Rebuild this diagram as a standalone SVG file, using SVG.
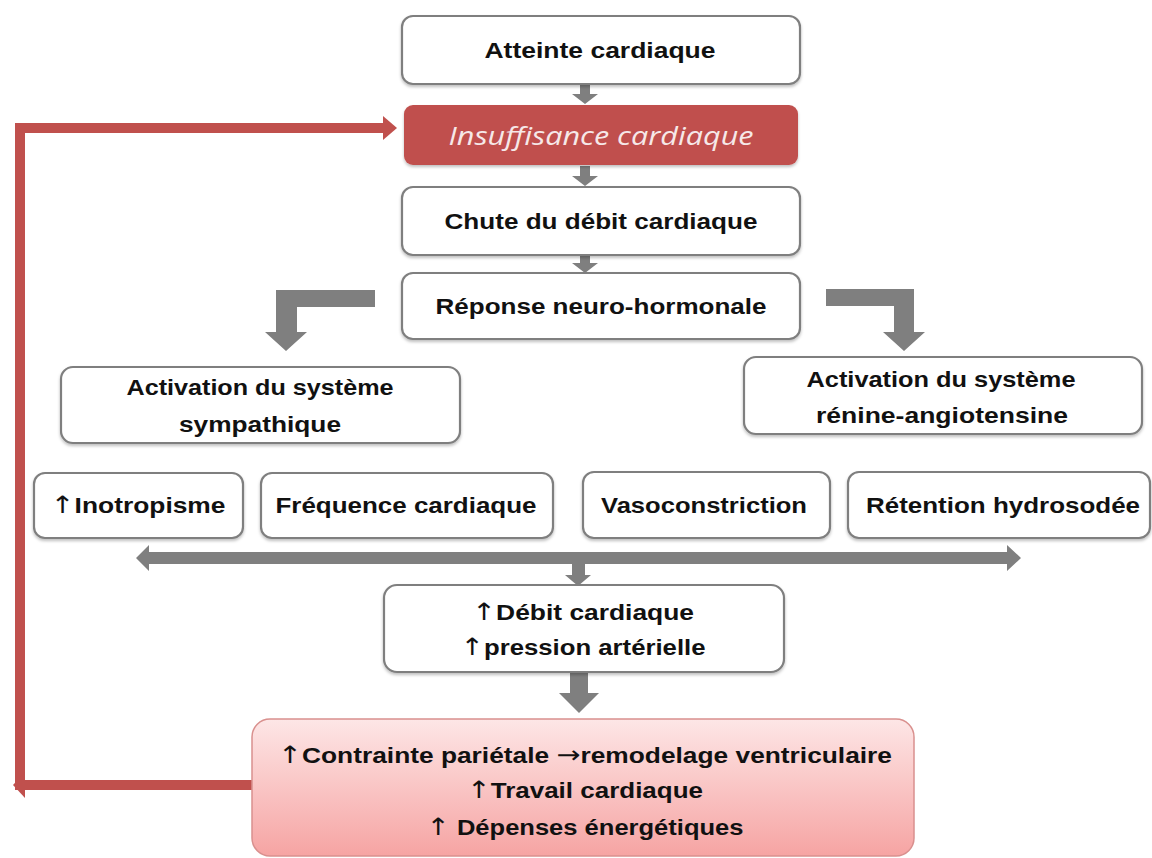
<svg xmlns="http://www.w3.org/2000/svg" width="1152" height="858" viewBox="0 0 1152 858">
<defs>
<style>
.box{fill:#ffffff;stroke:#7f7f7f;stroke-width:2.2}
.t{font-family:"Liberation Sans",Arial,"DejaVu Sans",sans-serif;font-weight:bold;font-size:22px;fill:#111111;text-anchor:middle}
.ar{font-family:"DejaVu Sans",sans-serif;font-weight:normal;font-size:24px}
.ga{fill:#7f7f7f}
.red{fill:none;stroke:#c0504d;stroke-width:10}
</style>
<linearGradient id="pink" x1="0" y1="0" x2="0" y2="1">
<stop offset="0" stop-color="#fde6e6"/>
<stop offset="1" stop-color="#f6a4a3"/>
</linearGradient>
<filter id="sh" x="-5%" y="-10%" width="110%" height="130%">
<feDropShadow dx="0" dy="2" stdDeviation="1.5" flood-color="#000" flood-opacity="0.25"/>
</filter>
</defs>
<rect width="1152" height="858" fill="#ffffff"/>

<g id="connectors">
<polygon class="ga" points="580,84 590,84 590,94 598,94 585,104 572,94 580,94"/>
<polygon class="ga" points="580,166 590,166 590,176 598,176 585,186 572,176 580,176"/>
<polygon class="ga" points="580,255 590,255 590,263 598,263 585,273 572,263 580,263"/>
<polygon class="ga" points="375,290 276,290 276,332 265,332 286,351 307,332 297,332 297,307 375,307"/>
<polygon class="ga" points="826,289 914,289 914,332 925,332 904,351 883,332 894,332 894,306 826,306"/>
<polygon class="ga" points="136,558 149,545 149,552 1007,552 1007,545 1021,558 1007,571 1007,564 149,564 149,571"/>
<polygon class="ga" points="572,564 585,564 585,575 591,575 578,586 565,575 572,575"/>
<polygon class="ga" points="570,672 588,672 588,693 599,693 579,713 559,693 570,693"/>
<polyline class="red" points="253,785 20,785 20,128 384,128"/>
<polygon fill="#c0504d" points="383,116 397,128 383,140"/>
<polygon fill="#c0504d" points="13,785 25,772 25,798"/>
</g>

<g id="n1"><rect class="box" x="402" y="16" width="398" height="68" rx="11" filter="url(#sh)"/>
<text class="t" x="600" y="58" textLength="231" lengthAdjust="spacingAndGlyphs">Atteinte cardiaque</text></g>

<g id="n2"><rect x="404" y="105" width="394" height="60" rx="9" fill="#c0504d" filter="url(#sh)"/>
<text x="601" y="145" font-family="'Open Sans','DejaVu Sans',sans-serif" font-style="italic" font-size="25" fill="#f6e8e8" text-anchor="middle" textLength="305" lengthAdjust="spacingAndGlyphs">Insuffisance cardiaque</text></g>

<g id="n3"><rect class="box" x="402" y="187" width="398" height="68" rx="11" filter="url(#sh)"/>
<text class="t" x="601" y="229" textLength="313" lengthAdjust="spacingAndGlyphs">Chute du débit cardiaque</text></g>

<g id="n4"><rect class="box" x="402" y="273" width="398" height="66" rx="11" filter="url(#sh)"/>
<text class="t" x="601" y="314" textLength="331" lengthAdjust="spacingAndGlyphs">Réponse neuro-hormonale</text></g>

<g id="n5"><rect class="box" x="61" y="367" width="399" height="76" rx="12" filter="url(#sh)"/>
<text class="t" x="260" y="395" textLength="267" lengthAdjust="spacingAndGlyphs">Activation du système</text>
<text class="t" x="260" y="432" textLength="162" lengthAdjust="spacingAndGlyphs">sympathique</text></g>

<g id="n6"><rect class="box" x="744" y="357" width="398" height="77" rx="12" filter="url(#sh)"/>
<text class="t" x="941" y="387" textLength="269" lengthAdjust="spacingAndGlyphs">Activation du système</text>
<text class="t" x="942" y="423" textLength="252" lengthAdjust="spacingAndGlyphs">rénine-angiotensine</text></g>

<g id="n7"><rect class="box" x="34" y="473" width="209" height="65" rx="11" filter="url(#sh)"/>
<text class="t" x="138" y="513" textLength="175" lengthAdjust="spacingAndGlyphs"><tspan class="ar">↑</tspan>Inotropisme</text></g>

<g id="n8"><rect class="box" x="261" y="473" width="292" height="65" rx="11" filter="url(#sh)"/>
<text class="t" x="406" y="513" textLength="261" lengthAdjust="spacingAndGlyphs">Fréquence cardiaque</text></g>

<g id="n9"><rect class="box" x="583" y="472" width="247" height="66" rx="11" filter="url(#sh)"/>
<text class="t" x="704" y="513" textLength="206" lengthAdjust="spacingAndGlyphs">Vasoconstriction</text></g>

<g id="n10"><rect class="box" x="848" y="472" width="302" height="66" rx="11" filter="url(#sh)"/>
<text class="t" x="1003" y="513" textLength="274" lengthAdjust="spacingAndGlyphs">Rétention hydrosodée</text></g>

<g id="n11"><rect class="box" x="384" y="585" width="400" height="87" rx="13" filter="url(#sh)"/>
<text class="t" x="583" y="620" textLength="222" lengthAdjust="spacingAndGlyphs"><tspan class="ar">↑</tspan>Débit cardiaque</text>
<text class="t" x="583" y="655" textLength="245" lengthAdjust="spacingAndGlyphs"><tspan class="ar">↑</tspan>pression artérielle</text></g>

<g id="n12"><rect x="252" y="719" width="662" height="137" rx="18" fill="url(#pink)" stroke="#d9908e" stroke-width="1.5"/>
<text class="t" x="585" y="763" textLength="614" lengthAdjust="spacingAndGlyphs"><tspan class="ar">↑</tspan>Contrainte pariétale <tspan class="ar">→</tspan>remodelage ventriculaire</text>
<text class="t" x="585" y="798" textLength="236" lengthAdjust="spacingAndGlyphs"><tspan class="ar">↑</tspan>Travail cardiaque</text>
<text class="t" x="585" y="835" textLength="317" lengthAdjust="spacingAndGlyphs"><tspan class="ar">↑</tspan> Dépenses énergétiques</text></g>
</svg>
